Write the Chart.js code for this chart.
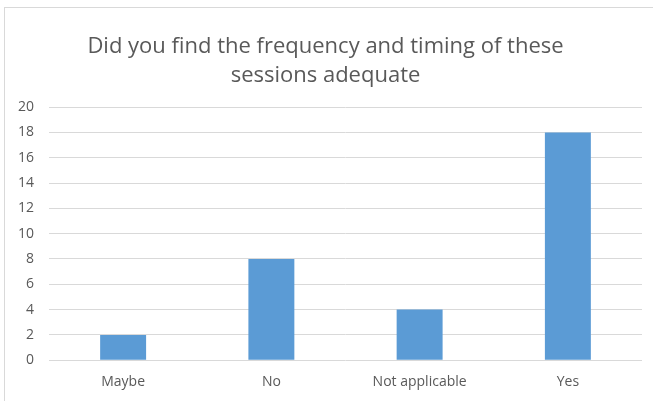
<!DOCTYPE html>
<html>
<head>
<meta charset="utf-8">
<script src="https://cdn.jsdelivr.net/npm/chart.js@4.4.1/dist/chart.umd.min.js"></script>
<style>
  html, body { margin: 0; padding: 0; background: #fff; overflow: hidden; }
  .frame {
    position: absolute; left: 4px; top: 7px; width: 700px; height: 450px;
    border-left: 1px solid #d9d9d9; border-top: 1px solid #d9d9d9;
  }
  .wrap { position: absolute; left: 0; top: 0; width: 653px; height: 401px; }
</style>
</head>
<body>
<div class="frame"></div>
<div class="wrap"><canvas id="myChart"></canvas></div>
<script>
const categories = ['Maybe', 'No', 'Not applicable', 'Yes']
const counts = [2, 8, 4, 18]
const titleLines = ['Did you find the frequency and timing of these', 'sessions adequate']

const textColor = '#595959'
const gridColor = '#d9d9d9'
const fontFamily = "'Open Sans', 'Liberation Sans', sans-serif"

const data = {
  labels: categories,
  datasets: [
    {
      label: 'Count',
      data: counts,
      backgroundColor: '#5b9bd5',
      borderWidth: 0,
      barPercentage: 0.31,
      categoryPercentage: 1
    }
  ]
}

const config = {
  type: 'bar',
  data: data,
  options: {
    responsive: true,
    maintainAspectRatio: false,
    animation: false,
    layout: {
      padding: { left: 9, right: 11, top: 0, bottom: -2 }
    },
    plugins: {
      legend: { display: false },
      tooltip: { enabled: false },
      title: {
        display: true,
        text: titleLines,
        color: textColor,
        font: { family: fontFamily, size: 22, weight: 'normal', lineHeight: 1.32 },
        padding: { top: 32, bottom: 17 }
      }
    },
    scales: {
      x: {
        grid: { display: false, drawTicks: false },
        border: { display: false },
        ticks: {
          color: textColor,
          font: { family: fontFamily, size: 14 },
          padding: 13
        }
      },
      y: {
        min: 0,
        max: 20,
        afterFit: scale => { scale.width = 40 },
        grid: { color: gridColor, lineWidth: 1, drawTicks: false },
        border: { display: false },
        ticks: {
          stepSize: 2,
          color: textColor,
          font: { family: fontFamily, size: 14 },
          padding: 15
        }
      }
    }
  }
}

const ctx = document.getElementById('myChart')
const chart = new Chart(ctx, config)
</script>
</body>
</html>
